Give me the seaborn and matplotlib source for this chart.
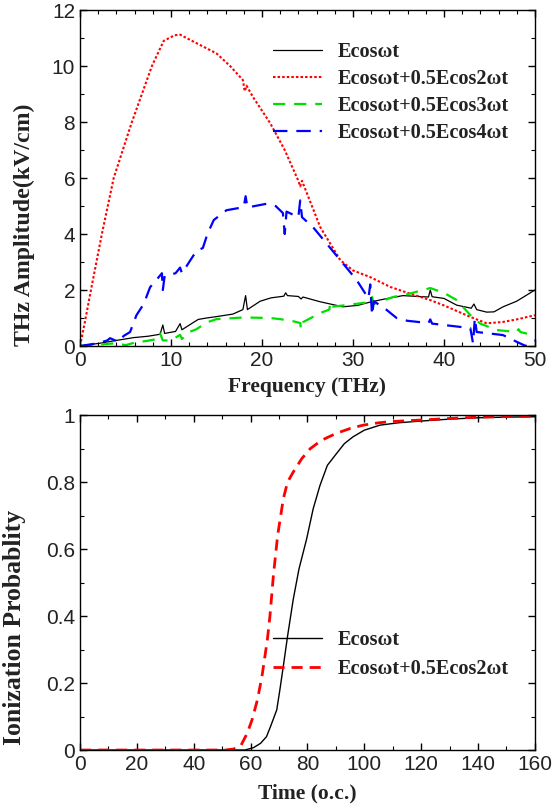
import numpy as np
import pandas as pd
import matplotlib
matplotlib.use('Agg')
import matplotlib.pyplot as plt
import seaborn as sns
from matplotlib.ticker import MultipleLocator

sns.set_style('ticks')
plt.rcParams['font.family'] = ['Liberation Sans', 'DejaVu Sans']
plt.rcParams['xtick.direction'] = 'in'
plt.rcParams['ytick.direction'] = 'in'

# --- THz amplitude spectra (top panel) ---
f_black = [0, 1, 2.2, 4, 5.9, 7.5, 8.8, 9.1, 9.3, 10.5, 11, 11.2, 12.5, 13, 13.9, 15, 16.8, 17.9, 18.2, 18.4,
           19.8, 21, 22.4, 22.6, 22.8, 24, 24.3, 24.5, 26.4, 28.9, 30.5, 31.9, 33.5, 35.5, 38.3, 38.5, 38.7,
           40, 41.4, 43, 43.3, 43.6, 44.7, 45.5, 46.5, 48, 50]
a_black = [0, 0.05, 0.1, 0.2, 0.3, 0.35, 0.42, 0.75, 0.45, 0.52, 0.8, 0.58, 0.85, 0.95, 1.0, 1.05, 1.14, 1.3, 1.8, 1.3,
           1.6, 1.72, 1.78, 1.9, 1.8, 1.77, 1.68, 1.75, 1.58, 1.4, 1.45, 1.57, 1.68, 1.8, 1.75, 2.0, 1.76,
           1.7, 1.46, 1.35, 1.5, 1.3, 1.21, 1.22, 1.4, 1.6, 2.0]

f_red = [0, 0.5, 1.2, 2.4, 3.7, 5.7, 7.9, 9.2, 10.4, 11, 12, 13.5, 15, 16.5, 17.9, 18.1, 18.3, 19, 20.9, 22.5,
         24, 24.2, 24.4, 26.4, 28.6, 30, 31.9, 34.1, 36, 38.5, 40, 42.9, 44.7, 46.5, 48, 50]
a_red = [0, 0.8, 2, 4, 6, 8, 10, 10.9, 11.1, 11.12, 10.95, 10.7, 10.45, 10.0, 9.5, 9.1, 9.3, 8.9, 7.96, 7.0,
         5.9, 5.7, 5.9, 4.25, 3.07, 2.7, 2.46, 2.11, 1.9, 1.64, 1.45, 1.04, 0.81, 0.86, 0.95, 1.1]

f_green = [0, 2, 4, 5, 6, 7.3, 8.5, 8.8, 9.1, 10, 11, 11.2, 12, 12.8, 13.9, 15, 18, 20.9, 22, 23.5, 24.2, 24.3,
           24.5, 26.4, 27.4, 27.5, 27.6, 29, 31.9, 32.1, 32.3, 34.4, 36, 38.5, 40, 41.4, 43.2, 44, 45.8, 48,
           48.2, 48.4, 50]
a_green = [0, 0.05, 0.1, 0.03, 0.12, 0.18, 0.25, 0.45, 0.2, 0.2, 0.4, 0.25, 0.5, 0.6, 0.84, 0.96, 1.02, 1.0, 0.96,
           0.88, 0.82, 0.6, 0.85, 1.18, 1.3, 1.55, 1.4, 1.45, 1.57, 1.75, 1.5, 1.75, 1.85, 2.07, 1.9, 1.64, 1.0,
           0.8, 0.57, 0.5, 0.6, 0.5, 0.37]

f_blue = [0, 1, 2, 3, 3.3, 4.2, 4.8, 5.5, 6.2, 7, 7.7, 8.5, 9, 9.1, 9.3, 10.5, 11, 11.2, 12, 12.8, 13.5, 14,
          14.7, 16.1, 18, 18.2, 18.4, 20.5, 21.5, 22.3, 22.5, 22.7, 24, 24.2, 24.4, 25.6, 27, 28.6, 30.4,
          31.7, 31.9, 32.1, 32.3, 33.7, 34.8, 36, 38.3, 38.5, 38.7, 40, 42.9, 43.2, 43.4, 43.6, 44.7, 46.5,
          48, 49, 50]
a_blue = [0, 0.05, 0.1, 0.2, 0.28, 0.15, 0.36, 0.5, 1.1, 1.5, 2.1, 2.4, 2.6, 2.0, 2.5, 2.6, 2.8, 2.6, 3.0, 3.4,
          3.5, 4.0, 4.5, 4.85, 4.96, 5.35, 4.95, 5.08, 5.0, 4.75, 4.0, 4.8, 4.6, 5.2, 4.6, 4.25, 3.7, 3.07, 2.36,
          1.7, 2.2, 1.1, 1.6, 1.29, 1.0, 0.9, 0.82, 0.95, 0.8, 0.75, 0.64, 0.1, 1.0, 0.5, 0.46, 0.39,
          0.15, 0.0, 0.2]

# --- Ionization probability (bottom panel) ---
t_black = [0, 58, 61, 63.5, 65.6, 67, 69.2, 70.3, 71.5, 73, 75, 77, 79.7, 82, 84.4, 87, 90.2, 93, 96, 100, 105.5,
           112, 119.5, 130, 140, 150, 160]
p_black = [0, 0, 0.007, 0.02, 0.04, 0.07, 0.12, 0.18, 0.25, 0.34, 0.45, 0.54, 0.63, 0.72, 0.79, 0.85, 0.885, 0.915,
           0.935, 0.955, 0.97, 0.977, 0.982, 0.988, 0.992, 0.994, 0.995]
t_red = [0, 51, 54, 56.5, 58.8, 60.5, 62.4, 64, 65.9, 66.8, 68, 69.5, 71.5, 73, 75, 78, 81, 85, 90, 95, 99.6,
         105, 110, 119.5, 130, 140, 160]
p_red = [0, 0, 0.003, 0.012, 0.05, 0.09, 0.15, 0.22, 0.33, 0.4, 0.52, 0.64, 0.75, 0.8, 0.83, 0.87, 0.9, 0.925,
         0.945, 0.96, 0.97, 0.977, 0.981, 0.985, 0.99, 0.994, 0.997]

lab1 = 'Ecos\u03c9t'
lab2 = 'Ecos\u03c9t+0.5Ecos2\u03c9t'
lab3 = 'Ecos\u03c9t+0.5Ecos3\u03c9t'
lab4 = 'Ecos\u03c9t+0.5Ecos4\u03c9t'

serif = ['Liberation Serif', 'DejaVu Serif']

fig = plt.figure(figsize=(5.52, 8.09), dpi=100)
ax1 = fig.add_axes([0.145, 0.5723, 0.824, 0.4153])
ax2 = fig.add_axes([0.145, 0.0729, 0.824, 0.414])

kw = dict(ax=ax1, estimator=None, sort=False)
sns.lineplot(x=f_black, y=a_black, color='black', lw=0.9, label=lab1, **kw)
sns.lineplot(x=f_red, y=a_red, color='red', lw=1.5, label=lab2, **kw)
sns.lineplot(x=f_green, y=a_green, color='#00e000', lw=1.6, label=lab3, **kw)
sns.lineplot(x=f_blue, y=a_blue, color='#0000ff', lw=1.6, label=lab4, **kw)
lines = ax1.get_lines()
lines[1].set_linestyle((0, (1.2, 1.0)))
lines[2].set_linestyle((0, (5.5, 4)))
lines[3].set_linestyle((0, (6.5, 4)))

ax1.set_xlim(0, 50)
ax1.set_ylim(0, 12)
ax1.xaxis.set_major_locator(MultipleLocator(10))
ax1.xaxis.set_minor_locator(MultipleLocator(2))
ax1.yaxis.set_major_locator(MultipleLocator(2))
ax1.yaxis.set_minor_locator(MultipleLocator(1))
ax1.set_xlabel('Frequency (THz)', fontsize=15.5, labelpad=5, family=serif, weight='bold', color='#222222')
ax1.set_ylabel('THz Amplitude(kV/cm)', fontsize=17.2, family=serif, weight='bold', color='#222222')
ax1.yaxis.set_label_coords(-0.10, 0.36)

kw2 = dict(ax=ax2, estimator=None, sort=False)
sns.lineplot(x=t_black, y=p_black, color='black', lw=1.0, label=lab1, **kw2)
sns.lineplot(x=t_red, y=p_red, color='red', lw=2.0, label=lab2, **kw2)
ax2.get_lines()[1].set_linestyle((0, (4, 2.5)))
ax2.set_xlim(0, 160)
ax2.set_ylim(0, 1)
ax2.xaxis.set_major_locator(MultipleLocator(20))
ax2.xaxis.set_minor_locator(MultipleLocator(10))
ax2.yaxis.set_major_locator(MultipleLocator(0.2))
ax2.yaxis.set_minor_locator(MultipleLocator(0.1))
ax2.yaxis.set_major_formatter(plt.FuncFormatter(lambda v, p: f'{round(v, 1):g}'))
ax2.set_xlabel('Time (o.c.)', fontsize=15.5, labelpad=7, family=serif, weight='bold', color='#222222')
ax2.set_ylabel('Ionization Probablity', fontsize=18.5, family=serif, weight='bold', color='#222222')
ax2.yaxis.set_label_coords(-0.118, 0.367)

for ax in (ax1, ax2):
    ax.tick_params(which='both', top=True, right=True, direction='in', colors='black',
                   labelcolor='#222222', labelsize=15)
    ax.tick_params(which='major', length=5, width=1)
    ax.tick_params(which='minor', length=3, width=0.8)
    for s in ax.spines.values():
        s.set_color('black')
        s.set_linewidth(1.0)

legprop = dict(family=serif, weight='bold', size=14.6)
leg1 = ax1.legend(loc='upper left', bbox_to_anchor=(0.425, 0.905), frameon=False, borderpad=0,
                  borderaxespad=0, handlelength=2.4, handletextpad=0.75, labelspacing=0.34, prop=legprop)
leg2 = ax2.legend(loc='upper left', bbox_to_anchor=(0.425, 0.358), frameon=False, borderpad=0,
                  borderaxespad=0, handlelength=2.4, handletextpad=0.75, labelspacing=0.44, prop=legprop)
for leg in (leg1, leg2):
    for t in leg.get_texts():
        t.set_color('#222222')

fig.savefig('out.png', dpi=100)
